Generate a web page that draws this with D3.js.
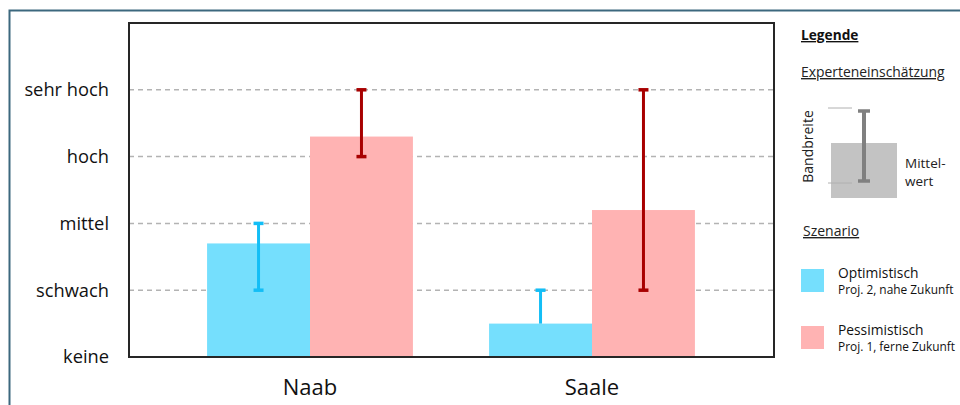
<!DOCTYPE html>
<html>
<head>
<meta charset="utf-8">
<script src="https://cdn.jsdelivr.net/npm/d3@7"></script>
<style>
  body { margin: 0; background: #fff; }
  svg { display: block; font-family: "Open Sans", sans-serif; }
</style>
</head>
<body>
<div id="chart"></div>
<script>
// data
var categories = ["Naab", "Saale"]
var levels = ["keine", "schwach", "mittel", "hoch", "sehr hoch"]
var optMean = [1.7, 0.5]
var optLow = [1, 0.5]
var optHigh = [2, 1]
var pesMean = [3.3, 2.2]
var pesLow = [3, 1]
var pesHigh = [4, 4]

var series = [
   { key: "opt", mean: optMean, low: optLow, high: optHigh, fill: "#75dffd", err: "#13bef6" },
   { key: "pes", mean: pesMean, low: pesLow, high: pesHigh, fill: "#ffb3b3", err: "#a80000" }
]

var width = 960
var height = 405
var plot = { left: 129, top: 23, right: 774, bottom: 357 }

var svg = d3.select("#chart").append("svg")
   .attr("width", width)
   .attr("height", height)

// outer frame (cropped)
svg.append("path")
   .attr("d", "M9.5,405 V10.5 H960")
   .attr("fill", "none")
   .attr("stroke", "#3c687e")
   .attr("stroke-width", 2)

var y = d3.scaleLinear().domain([0, 5]).range([plot.bottom, plot.top])
var x0 = d3.scaleBand().domain(categories).range([169, 733]).paddingInner(0.27).paddingOuter(0.135)
var x1 = d3.scaleBand().domain(series.map(function(s) { return s.key })).range([0, x0.bandwidth()])

// grid lines
svg.append("g").selectAll("line.grid")
   .data(d3.range(1, levels.length))
   .enter().append("line")
      .attr("class", "grid")
      .attr("x1", plot.left)
      .attr("x2", plot.right)
      .attr("y1", function(d) { return y(d) })
      .attr("y2", function(d) { return y(d) })
      .attr("stroke", "#b3b3b3")
      .attr("stroke-width", 1.5)
      .attr("stroke-dasharray", "5,4")

// bars
series.forEach(function(s) {
   svg.append("g").selectAll("rect")
      .data(categories)
      .enter().append("rect")
         .attr("x", function(d) { return x0(d) + x1(s.key) })
         .attr("y", function(d, i) { return y(s.mean[i]) })
         .attr("width", x1.bandwidth())
         .attr("height", function(d, i) { return y(0) - y(s.mean[i]) })
         .attr("fill", s.fill)
})

// error bars
series.forEach(function(s) {
   var g = svg.append("g")
   categories.forEach(function(c, i) {
      var cx = x0(c) + x1(s.key) + x1.bandwidth() / 2
      g.append("line")
         .attr("x1", cx).attr("x2", cx)
         .attr("y1", y(s.low[i])).attr("y2", y(s.high[i]))
         .attr("stroke", s.err).attr("stroke-width", 3)
      var caps = [s.high[i]]
      if(s.low[i] != s.mean[i]) caps.push(s.low[i])
      caps.forEach(function(v) {
         g.append("line")
            .attr("x1", cx - 5).attr("x2", cx + 5)
            .attr("y1", y(v)).attr("y2", y(v))
            .attr("stroke", s.err).attr("stroke-width", 3.5)
      })
   })
})

// plot frame
svg.append("rect")
   .attr("x", plot.left).attr("y", plot.top)
   .attr("width", plot.right - plot.left)
   .attr("height", plot.bottom - plot.top)
   .attr("fill", "none")
   .attr("stroke", "#262626")
   .attr("stroke-width", 2)

// y axis labels
var yAxis = d3.axisLeft(y)
   .tickValues(d3.range(levels.length))
   .tickFormat(function(d) { return levels[d] })
   .tickSize(0)
   .tickPadding(20)

svg.append("g")
   .attr("transform", "translate(" + plot.left + ",0)")
   .call(yAxis)
   .call(function(g) { g.select(".domain").remove() })
   .selectAll("text")
      .attr("font-family", "Open Sans, sans-serif")
      .attr("font-size", 18.3)
      .attr("fill", "#111")

// x axis labels
var xAxis = d3.axisBottom(x0).tickSize(0).tickPadding(22)
svg.append("g")
   .attr("transform", "translate(0," + plot.bottom + ")")
   .call(xAxis)
   .call(function(g) { g.select(".domain").remove() })
   .selectAll("text")
      .attr("font-family", "Open Sans, sans-serif")
      .attr("font-size", 22)
      .attr("fill", "#111")

// legend
var lg = svg.append("g").attr("fill", "#111")

lg.append("text")
   .attr("x", 801).attr("y", 40)
   .attr("font-size", 13.7)
   .attr("font-weight", "bold")
   .attr("text-decoration", "underline")
   .text("Legende")

lg.append("text")
   .attr("x", 801).attr("y", 77)
   .attr("font-size", 13.9)
   .attr("fill", "#222")
   .attr("text-decoration", "underline")
   .text("Experteneinschätzung")

// Expert icon
lg.append("rect")
   .attr("x", 831).attr("y", 143)
   .attr("width", 66).attr("height", 55)
   .attr("fill", "#c3c3c3")

;[108, 183].forEach(function(v) {
   lg.append("line")
      .attr("x1", 828).attr("x2", 852)
      .attr("y1", v).attr("y2", v)
      .attr("stroke", "#b0b0b0").attr("stroke-width", 1)
})

lg.append("line")
   .attr("x1", 864).attr("x2", 864)
   .attr("y1", 111).attr("y2", 181)
   .attr("stroke", "#808080").attr("stroke-width", 4)

;[111, 181].forEach(function(v) {
   lg.append("line")
      .attr("x1", 858).attr("x2", 870)
      .attr("y1", v).attr("y2", v)
      .attr("stroke", "#808080").attr("stroke-width", 3.5)
})

lg.append("text")
   .attr("transform", "translate(813,146.5) rotate(-90)")
   .attr("text-anchor", "middle")
   .attr("font-size", 14)
   .attr("fill", "#222")
   .text("Bandbreite")

lg.append("text")
   .attr("x", 905).attr("y", 168)
   .attr("font-size", 13.5)
   .attr("fill", "#222")
   .text("Mittel-")

lg.append("text")
   .attr("x", 905).attr("y", 186)
   .attr("font-size", 13.5)
   .attr("fill", "#222")
   .text("wert")

lg.append("text")
   .attr("x", 803).attr("y", 236)
   .attr("font-size", 14)
   .attr("fill", "#222")
   .attr("text-decoration", "underline")
   .text("Szenario")

// scenario entries
var scenNames = ["Optimistisch", "Pessimistisch"]
var scenNotes = ["Proj. 2, nahe Zukunft", "Proj. 1, ferne Zukunft"]
var scenY = d3.scalePoint().domain(series.map(function(s) { return s.key })).range([269, 326])

series.forEach(function(s, i) {
   var top = scenY(s.key)
   lg.append("rect")
      .attr("x", 801).attr("y", top)
      .attr("width", 23).attr("height", 23)
      .attr("fill", s.fill)
   lg.append("text")
      .attr("x", 838).attr("y", top + 9)
      .attr("font-size", 13.8)
      .text(scenNames[i])
   lg.append("text")
      .attr("x", 838).attr("y", top + 25)
      .attr("font-size", 11.9)
      .text(scenNotes[i])
})
</script>
</body>
</html>
